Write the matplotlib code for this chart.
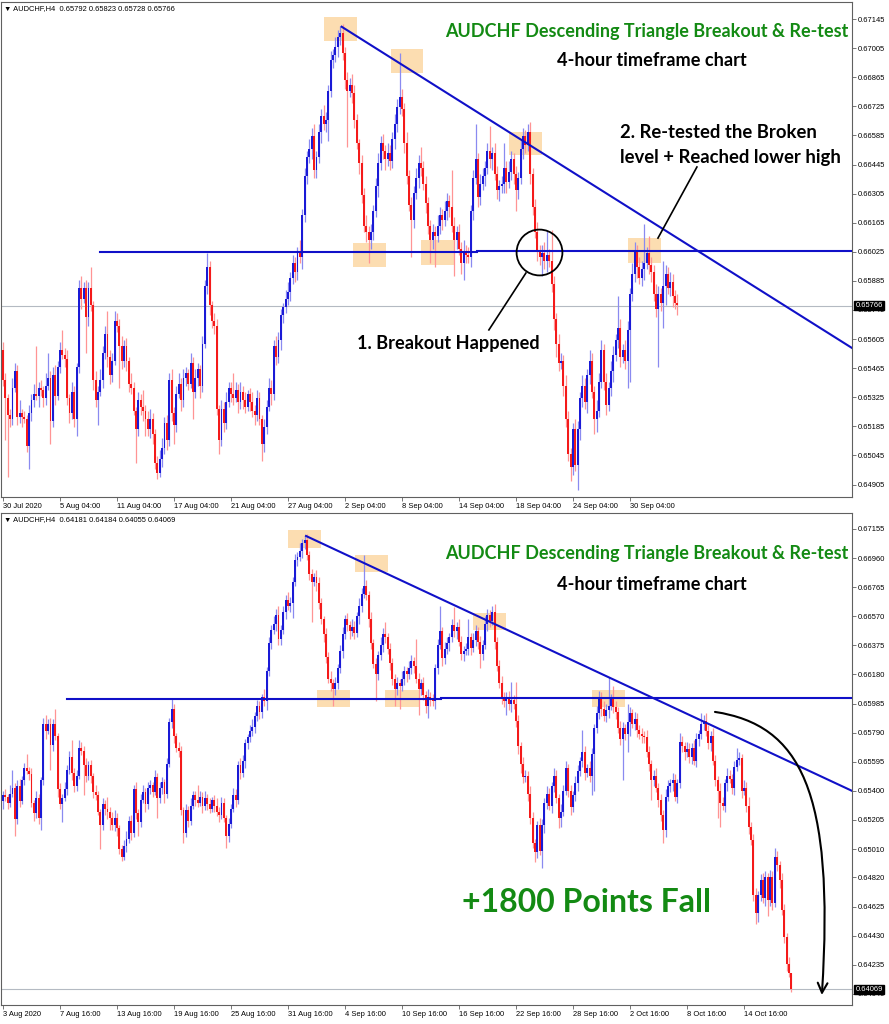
import matplotlib
matplotlib.use("Agg")
import matplotlib.pyplot as plt
import numpy as np
from matplotlib.patches import Rectangle, FancyArrowPatch
from matplotlib.path import Path

# AUDCHF H4 closes in pips (0.0001), bar 0 = 30 Jul 2020 04:00
close_pips = [
    6541, 6532, 6524, 6522, 6537, 6545, 6523, 6525, 6523, 6522, 6509, 6525,
    6531, 6534, 6533, 6537, 6536, 6532, 6538, 6542, 6521, 6543, 6533, 6547,
    6555, 6553, 6551, 6532, 6525, 6535, 6522, 6547, 6585, 6580, 6585, 6571,
    6585, 6577, 6541, 6531, 6535, 6541, 6554, 6563, 6552, 6543, 6550, 6569,
    6567, 6557, 6550, 6557, 6550, 6539, 6537, 6526, 6517, 6531, 6528, 6526,
    6522, 6517, 6522, 6515, 6501, 6496, 6503, 6508, 6520, 6512, 6541, 6525,
    6519, 6534, 6539, 6531, 6542, 6544, 6539, 6549, 6535, 6542, 6546, 6538,
    6558, 6586, 6595, 6577, 6569, 6567, 6527, 6512, 6527, 6520, 6530, 6537,
    6534, 6532, 6536, 6530, 6535, 6531, 6528, 6534, 6530, 6526, 6524, 6532,
    6522, 6510, 6518, 6528, 6537, 6534, 6557, 6552, 6560, 6572, 6576, 6580,
    6583, 6590, 6597, 6593, 6603, 6600, 6620, 6639, 6648, 6652, 6658, 6642,
    6648, 6660, 6668, 6664, 6666, 6680, 6695, 6697, 6701, 6706, 6708, 6698,
    6685, 6680, 6683, 6679, 6666, 6655, 6645, 6630, 6615, 6612, 6608, 6612,
    6622, 6634, 6645, 6655, 6651, 6647, 6650, 6646, 6657, 6664, 6672, 6677,
    6671, 6655, 6639, 6625, 6618, 6631, 6638, 6645, 6643, 6635, 6626, 6615,
    6608, 6612, 6610, 6615, 6620, 6618, 6622, 6627, 6624, 6615, 6608, 6612,
    6604, 6597, 6603, 6601, 6600, 6622, 6638, 6647, 6629, 6635, 6639, 6643,
    6651, 6647, 6650, 6640, 6632, 6634, 6635, 6643, 6636, 6641, 6647, 6640,
    6632, 6638, 6652, 6658, 6654, 6660, 6640, 6624, 6612, 6603, 6600, 6602,
    6598, 6601, 6598, 6587, 6570, 6558, 6549, 6550, 6538, 6522, 6505, 6499,
    6517, 6500, 6517, 6532, 6538, 6530, 6543, 6550, 6535, 6522, 6526, 6540,
    6555, 6540, 6529, 6537, 6545, 6553, 6560, 6566, 6552, 6555, 6550, 6565,
    6582, 6592, 6603, 6595, 6590, 6594, 6597, 6602, 6596, 6593, 6582, 6575,
    6582, 6578, 6586, 6592, 6585, 6588, 6581, 6578, 6577, 6576, 6566, 6558,
    6547, 6550, 6542, 6534, 6524, 6514, 6536, 6543, 6545, 6547, 6536, 6545,
    6573, 6570, 6566, 6568, 6563, 6569, 6560, 6575, 6578, 6585, 6587, 6580,
    6572, 6577, 6560, 6547, 6540, 6532, 6530, 6545, 6550, 6548, 6542, 6556,
    6561, 6562, 6540, 6542, 6530, 6516, 6507, 6470, 6458, 6470, 6480, 6468,
    6482, 6467, 6482, 6465, 6496, 6490, 6480, 6460, 6442, 6424, 6418, 6407,
]
# upper / lower wick lengths in pips
up_pips = [
    4, 3, 2, 3, 5, 4, 3, 6, 2, 3, 2, 4,
    3, 5, 23, 3, 4, 2, 6, 12, 3, 4, 5, 3,
    4, 10, 3, 4, 2, 5, 3, 2, 4, 6, 3, 4,
    3, 10, 2, 4, 3, 5, 3, 4, 11, 3, 4, 5,
    4, 3, 5, 3, 4, 2, 5, 3, 2, 4, 3, 8,
    3, 4, 5, 3, 2, 3, 4, 5, 3, 4, 3, 5,
    3, 4, 5, 3, 4, 3, 2, 5, 3, 4, 3, 2,
    4, 3, 7, 3, 2, 4, 3, 2, 4, 3, 5, 3,
    3, 10, 4, 3, 5, 3, 4, 2, 3, 5, 3, 4,
    3, 2, 4, 3, 5, 4, 3, 5, 4, 3, 2, 4,
    5, 3, 4, 3, 2, 5, 3, 4, 3, 5, 4, 6,
    3, 4, 3, 5, 4, 3, 4, 3, 5, 3, 3, 4,
    3, 4, 3, 5, 4, 3, 2, 4, 3, 5, 3, 4,
    3, 4, 5, 3, 4, 3, 5, 4, 3, 5, 4, 21,
    4, 3, 5, 3, 4, 3, 5, 4, 8, 3, 4, 3,
    3, 4, 3, 5, 4, 3, 5, 4, 3, 18, 4, 3,
    4, 3, 5, 3, 4, 3, 4, 17, 3, 5, 4, 3,
    4, 12, 3, 5, 4, 3, 4, 12, 3, 5, 4, 3,
    4, 3, 5, 4, 3, 4, 5, 3, 4, 5, 3, 4,
    5, 12, 3, 15, 4, 3, 5, 4, 3, 5, 4, 3,
    3, 5, 4, 3, 5, 4, 3, 5, 4, 3, 5, 4,
    5, 3, 4, 3, 5, 4, 3, 15, 4, 3, 5, 4,
    3, 5, 4, 3, 5, 4, 19, 3, 8, 4, 3, 5,
    4, 3, 12, 4, 3, 5, 4, 3, 4, 3, 5, 4,
    3, 4, 5, 3, 4, 3, 5, 4, 3, 5, 4, 3,
    6, 4, 3, 5, 4, 3, 5, 4, 3, 7, 4, 5,
    4, 3, 5, 4, 3, 5, 4, 3, 5, 4, 3, 4,
    8, 4, 3, 5, 4, 6, 3, 4, 5, 3, 4, 5,
    4, 3, 5, 4, 6, 4, 3, 5, 4, 3, 5, 0,
]
down_pips = [
    3, 20, 30, 4, 3, 2, 4, 3, 5, 2, 3, 11,
    4, 3, 2, 5, 3, 4, 3, 2, 11, 3, 4, 2,
    3, 2, 4, 3, 5, 3, 4, 8, 3, 5, 2, 17,
    4, 3, 5, 3, 12, 2, 4, 3, 5, 4, 3, 2,
    3, 20, 4, 3, 5, 4, 3, 2, 16, 3, 4, 5,
    8, 3, 4, 5, 3, 3, 2, 4, 3, 5, 3, 4,
    9, 3, 2, 5, 3, 4, 3, 2, 13, 3, 4, 6,
    3, 2, 4, 5, 3, 4, 3, 7, 3, 4, 3, 2,
    4, 3, 2, 5, 3, 4, 3, 2, 4, 3, 5, 3,
    3, 8, 4, 3, 2, 5, 3, 4, 3, 5, 4, 3,
    3, 4, 3, 5, 4, 3, 6, 3, 4, 3, 5, 4,
    4, 3, 5, 3, 4, 10, 3, 4, 3, 5, 4, 3,
    4, 27, 3, 5, 4, 3, 5, 4, 3, 5, 11, 4,
    4, 3, 5, 3, 4, 5, 3, 4, 3, 5, 4, 3,
    3, 5, 4, 3, 18, 4, 3, 5, 4, 3, 5, 4,
    11, 4, 15, 3, 4, 5, 3, 4, 5, 3, 17, 4,
    3, 5, 8, 4, 3, 5, 4, 3, 5, 4, 3, 5,
    3, 4, 5, 3, 4, 5, 3, 4, 5, 3, 4, 5,
    10, 4, 3, 5, 4, 3, 5, 4, 3, 5, 4, 9,
    4, 5, 3, 4, 5, 6, 4, 3, 5, 4, 3, 7,
    4, 3, 12, 5, 4, 3, 5, 4, 3, 7, 6, 3,
    3, 4, 5, 3, 4, 5, 3, 4, 5, 3, 4, 13,
    25, 3, 4, 5, 3, 4, 5, 3, 4, 5, 3, 4,
    28, 4, 12, 9, 3, 4, 5, 3, 5, 4, 3, 5,
    13, 4, 3, 5, 4, 9, 5, 3, 4, 5, 3, 4,
    3, 4, 5, 3, 4, 5, 3, 4, 5, 3, 4, 3,
    4, 5, 3, 4, 18, 16, 3, 4, 5, 3, 4, 5,
    3, 4, 5, 3, 4, 5, 3, 4, 7, 6, 4, 3,
    5, 11, 4, 5, 3, 4, 5, 3, 4, 5, 3, 2,
]
first_open = 0.6555

top_last_bar = 284
bottom_first_bar = 15

top_ticks = [0.67145, 0.67005, 0.66865, 0.66725, 0.66585, 0.66445, 0.66305, 0.66165, 0.66025,
             0.65885, 0.65745, 0.65605, 0.65465, 0.65325, 0.65185, 0.65045, 0.64905]
bottom_ticks = [0.67155, 0.66960, 0.66765, 0.66570, 0.66375, 0.66180, 0.65985, 0.65790, 0.65595,
                0.65400, 0.65205, 0.65010, 0.64820, 0.64625, 0.64430, 0.64235, 0.64040]
top_xlabels = ["30 Jul 2020", "5 Aug 04:00", "11 Aug 04:00", "17 Aug 04:00", "21 Aug 04:00",
               "27 Aug 04:00", "2 Sep 04:00", "8 Sep 04:00", "14 Sep 04:00", "18 Sep 04:00",
               "24 Sep 04:00", "30 Sep 04:00"]
bottom_xlabels = ["3 Aug 2020", "7 Aug 16:00", "13 Aug 16:00", "19 Aug 16:00", "25 Aug 16:00",
                  "31 Aug 16:00", "4 Sep 16:00", "10 Sep 16:00", "16 Sep 16:00", "22 Sep 16:00",
                  "28 Sep 16:00", "2 Oct 16:00", "8 Oct 16:00", "14 Oct 16:00"]
top_header = "\u25bc AUDCHF,H4  0.65792 0.65823 0.65728 0.65766"
bottom_header = "\u25bc AUDCHF,H4  0.64181 0.64184 0.64055 0.64069"
top_price = 0.65766
bottom_price = 0.64069

closes = np.array(close_pips) / 10000
opens = np.concatenate([[first_open], closes[:-1]])
highs = np.maximum(opens, closes) + np.array(up_pips) / 10000
lows = np.minimum(opens, closes) - np.array(down_pips) / 10000
bars = np.arange(len(closes))

W, H = 889, 1024
fig = plt.figure(figsize=(W / 100, H / 100), dpi=100)
fig.patch.set_facecolor("white")


def px_axes(x0, y0, x1, y1):
    return fig.add_axes([x0 / W, 1 - y1 / H, (x1 - x0) / W, (y1 - y0) / H])


def draw_candles(ax, sl):
    x, o, c, h, l = bars[sl], opens[sl], closes[sl], highs[sl], lows[sl]
    bull = c >= o
    wick_cols = np.where(bull, "#8a8af0", "#ff9494")
    ax.vlines(x, l, h, colors=wick_cols, lw=0.9, zorder=2)
    body = np.where(np.abs(c - o) < 0.00003, 0.00003, c - o)
    ax.bar(x, body, bottom=o, width=0.82, color=np.where(bull, "#1a1ad6", "#f41a1a"),
           linewidth=0, zorder=3)


def style_axes(ax, yticks, xticks, xlabels, header, price):
    for s in ax.spines.values():
        s.set_color("#606060")
        s.set_linewidth(0.8)
    ax.yaxis.tick_right()
    ax.set_yticks(yticks)
    ax.set_yticklabels([f"{v:.5f}" for v in yticks], fontsize=5.4, family="Liberation Sans")
    ax.set_xticks(xticks)
    ax.set_xticklabels(xlabels, fontsize=5.4, family="Liberation Sans", ha="left")
    ax.tick_params(axis="both", length=3, width=0.6, color="#606060", pad=1.5)
    ax.axhline(price, color="#b4bac2", lw=0.8, zorder=1)
    ax.text(0.004, 0.993, header, transform=ax.transAxes, va="top", ha="left", fontsize=5.4,
            family=["Liberation Sans", "DejaVu Sans"])
    ax.text(1.004, price, f"{price:.5f}", transform=ax.get_yaxis_transform(), ha="left",
            va="center", fontsize=5.4, family="Liberation Sans", color="white", zorder=10,
            bbox=dict(boxstyle="square,pad=0.15", fc="black", ec="black"), clip_on=False)


def boxes(ax, spans):
    for b0, b1, p0, p1 in spans:
        ax.add_patch(Rectangle((b0, p0), b1 - b0, p1 - p0, fc="#fcd8a4", ec="none",
                               alpha=0.85, zorder=1.5))


green = "#138a13"
title_font = dict(family="Lato", weight="bold")

# ---------------- top panel ----------------
ax1 = px_axes(1, 2, 852, 497)
ax1.set_xlim(-0.84, 357.5)
ax1.set_ylim(0.64845, 0.67227)
draw_candles(ax1, slice(0, top_last_bar + 1))
style_axes(ax1, top_ticks, list(range(0, 265, 24)), top_xlabels, top_header, top_price)
boxes(ax1, [(135.2, 149.1, 0.67041, 0.67156), (163.2, 177.0, 0.66885, 0.67001),
            (213.1, 227.0, 0.66491, 0.66601), (147.2, 161.1, 0.65953, 0.66069),
            (176.0, 190.3, 0.65961, 0.66082), (263.0, 276.9, 0.65971, 0.66091)])
ax1.plot([40.8, 199.6], [0.66022, 0.66022], color="#1010c8", lw=1.5, zorder=4)
ax1.plot([199.6, 358], [0.66028, 0.66028], color="#1010c8", lw=1.5, zorder=4)
ax1.plot([142.6, 357.5], [0.67108, 0.65562], color="#1010c8", lw=1.5, zorder=4)
ax1.plot([225.7], [0.66025], marker="o", ms=33, mfc="none", mec="black", mew=1.3, zorder=5)
ax1.plot([220.2, 204.6], [0.65923, 0.65649], color="black", lw=1.2, zorder=5)
ax1.plot([275.8, 292.2], [0.66091, 0.66433], color="black", lw=1.2, zorder=5)

fig.text(647 / W, 1 - 32 / H, "AUDCHF Descending Triangle Breakout & Re-test", color=green,
         fontsize=13.0, ha="center", va="center", **title_font)
fig.text(652 / W, 1 - 60 / H, "4-hour timeframe chart", color="black", fontsize=13.1,
         ha="center", va="center", **title_font)
fig.text(620 / W, 1 - 133 / H, "2. Re-tested the Broken", color="black", fontsize=13.3,
         ha="left", va="center", **title_font)
fig.text(620 / W, 1 - 157 / H, "level + Reached lower high", color="black", fontsize=13.3,
         ha="left", va="center", **title_font)
fig.text(357 / W, 1 - 343 / H, "1. Breakout Happened", color="black", fontsize=13.1,
         ha="left", va="center", **title_font)

# ---------------- bottom panel ----------------
ax2 = px_axes(1, 513, 852, 1005)
ax2.set_xlim(14.16, 372.5)
ax2.set_ylim(0.63965, 0.67262)
draw_candles(ax2, slice(bottom_first_bar, len(closes)))
style_axes(ax2, bottom_ticks, list(range(15, 328, 24)), bottom_xlabels, bottom_header,
           bottom_price)
boxes(ax2, [(135.2, 149.1, 0.67030, 0.67145), (163.2, 177.0, 0.66867, 0.66981),
            (213.1, 227.0, 0.66478, 0.66592), (147.2, 161.1, 0.65960, 0.66075),
            (176.0, 190.3, 0.65960, 0.66075), (263.0, 276.9, 0.65960, 0.66075)])
ax2.plot([42.0, 199.6], [0.66014, 0.66014], color="#1010c8", lw=1.5, zorder=4)
ax2.plot([199.6, 373], [0.66020, 0.66020], color="#1010c8", lw=1.5, zorder=4)
ax2.plot([142.6, 372.5], [0.67108, 0.65400], color="#1010c8", lw=1.5, zorder=4)

curve = Path([(314.8, 0.65929), (350.6, 0.65842), (365.3, 0.65406), (359.8, 0.64032)],
             [Path.MOVETO, Path.CURVE4, Path.CURVE4, Path.CURVE4])
ax2.add_patch(FancyArrowPatch(path=curve, arrowstyle="->,head_length=0.7,head_width=0.35",
                              color="black", lw=1.5, mutation_scale=10, zorder=6))

fig.text(647 / W, 1 - 553 / H, "AUDCHF Descending Triangle Breakout & Re-test", color=green,
         fontsize=13.0, ha="center", va="center", **title_font)
fig.text(652 / W, 1 - 584 / H, "4-hour timeframe chart", color="black", fontsize=13.1,
         ha="center", va="center", **title_font)
fig.text(462 / W, 1 - 903 / H, "+1800 Points Fall", color=green, fontsize=23,
         ha="left", va="center", **title_font)

fig.savefig("out.png", dpi=100, facecolor="white")
